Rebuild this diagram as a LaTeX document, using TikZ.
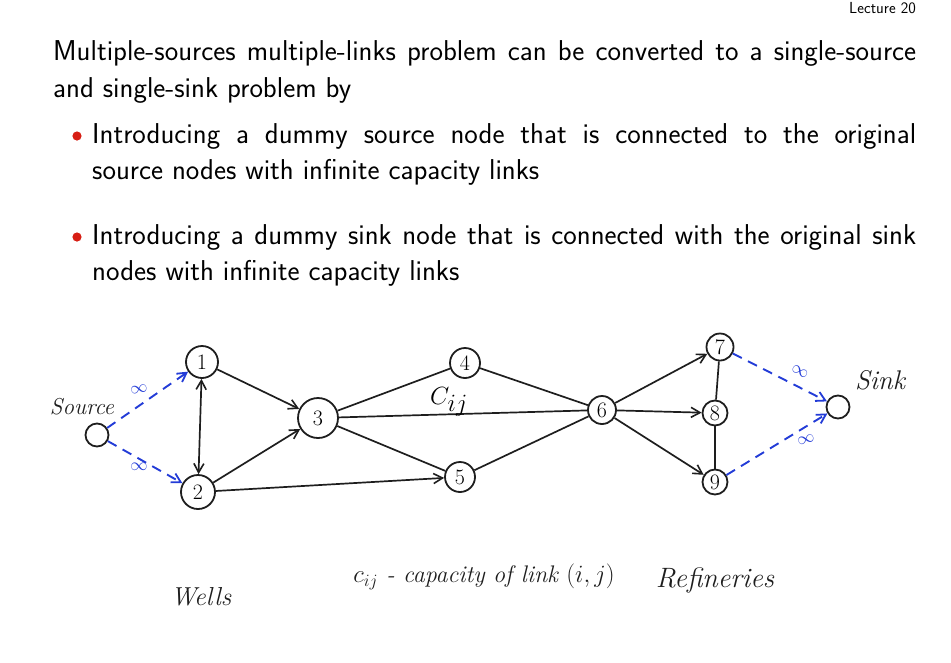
\documentclass[tikz,border=0pt]{standalone}
\usetikzlibrary{arrows.meta}
\definecolor{inkblue}{RGB}{35,60,215}
\definecolor{bulletred}{RGB}{215,30,20}
\definecolor{pencil}{RGB}{30,30,30}
\tikzset{
  txt/.style={anchor=base west, inner sep=0pt, font=\sffamily\fontsize{28.7}{35.5}\selectfont},
  vertex/.style={circle, draw=pencil, line width=1.8pt, inner sep=0pt,
    font=\fontsize{22}{22}\selectfont},
  link/.style={draw=pencil, line width=1.7pt},
  arc/.style={link, -{Straight Barb[length=9pt,width=10pt,line width=1.6pt]}},
  biarc/.style={link, {Straight Barb[length=9pt,width=10pt,line width=1.6pt]}-{Straight Barb[length=9pt,width=10pt,line width=1.6pt]}},
  dummy/.style={draw=inkblue, line width=1.9pt, dash pattern=on 10pt off 7pt,
    -{Straight Barb[length=9pt,width=10pt,line width=1.8pt]}},
  inf/.style={text=inkblue, font=\bfseries\fontsize{19}{19}\selectfont},
  hand/.style={text=pencil, font=\itshape\fontsize{#1}{#1}\selectfont},
  hand/.default=22,
}
\begin{document}
\begin{tikzpicture}[x=1pt, y=-1pt]
\useasboundingbox (0,0) rectangle (951,662);

% header
\node[anchor=base east, inner sep=0pt, font=\sffamily\fontsize{16}{18}\selectfont] (hdr) at (916,13) {Lecture 20};

% body text
\node[txt] (l1) at (53,60) {\makebox[863pt][s]{Multiple-sources multiple-links problem can be converted to a single-source}};
\node[txt] (l2) at (53,97) {and single-sink problem by};
\fill[bulletred] (77,136) circle (4.6pt);
\node[txt] (b1a) at (92,143) {\makebox[824pt][s]{Introducing a dummy source node that is connected to the original}};
\node[txt] (b1b) at (92,179) {source nodes with infinite capacity links};
\fill[bulletred] (77,237) circle (4.6pt);
\node[txt] (b2a) at (92,244) {\makebox[824pt][s]{Introducing a dummy sink node that is connected with the original sink}};
\node[txt] (b2b) at (92,280) {nodes with infinite capacity links};

% network nodes
\node[vertex, minimum size=23pt] (src) at (97,435) {};
\node[vertex, minimum size=32pt] (n1) at (202,362) {1};
\node[vertex, minimum size=34pt] (n2) at (198,492) {2};
\node[vertex, minimum size=40pt] (n3) at (318,418) {3};
\node[vertex, minimum size=30pt] (n4) at (465,363) {4};
\node[vertex, minimum size=30pt] (n5) at (460,477) {5};
\node[vertex, minimum size=28pt] (n6) at (602,410) {6};
\node[vertex, minimum size=27pt] (n7) at (720,347) {7};
\node[vertex, minimum size=25pt] (n8) at (715,413) {8};
\node[vertex, minimum size=25pt] (n9) at (715,482) {9};
\node[vertex, minimum size=23pt] (snk) at (838,407) {};

% dummy links with infinite capacity
\draw[dummy] (src) -- (n1);
\draw[dummy] (src) -- (n2);
\draw[dummy] (n7) -- (snk);
\draw[dummy] (n9) -- (snk);
\node[inf, rotate=10] (i1) at (139,389) {$\infty$};
\node[inf] (i2) at (139,467) {$\infty$};
\node[inf, rotate=-30] (i3) at (800,372) {$\infty$};
\node[inf, rotate=15] (i4) at (806,440) {$\infty$};

% original links
\draw[biarc] (n1) -- (n2);
\draw[arc] (n1) -- (n3);
\draw[arc] (n2) -- (n3);
\draw[arc] (n2) -- (n5);
\draw[link] (n3) -- (n4);
\draw[link] (n3) -- (n6);
\draw[link] (n3) -- (n5);
\draw[link] (n4) -- (n6);
\draw[link] (n5) -- (n6);
\draw[arc] (n6) -- (n7);
\draw[arc] (n6) -- (n8);
\draw[arc] (n6) -- (n9);
\draw[link] (n7) -- (n8);
\draw[link] (n8) -- (n9);

% labels
\node[font=\fontsize{36}{36}\selectfont] (cij) at (449,402) {$C_{ij}$};
\node[hand=23] (lsrc) at (82,407) {Source};
\node[hand=27] (lsnk) at (880,380) {Sink};
\node[hand=26] (lwells) at (201,597) {Wells};
\node[hand=24] (lcap) at (484,577) {$c_{ij}$ - capacity of link $(i,j)$};
\node[hand=28] (lref) at (715,580) {Refineries};
\end{tikzpicture}
\end{document}
